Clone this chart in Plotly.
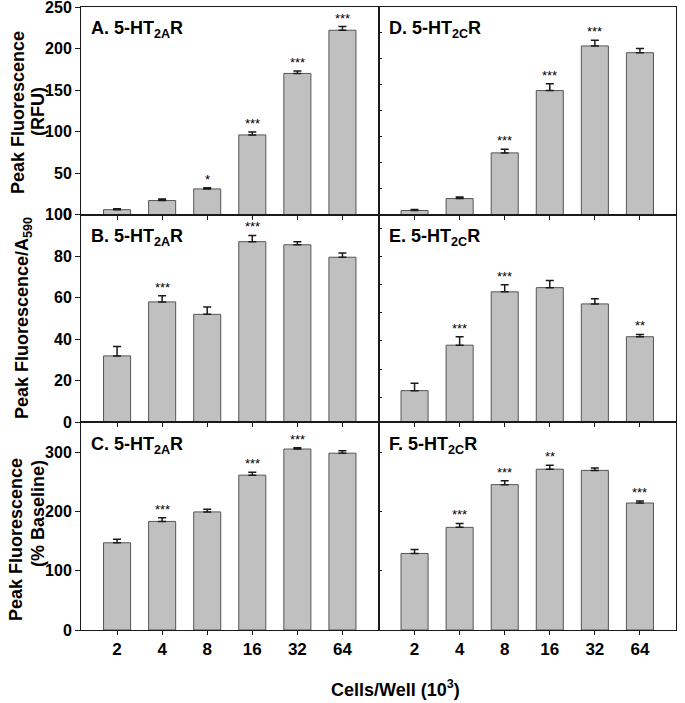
import plotly.graph_objects as go
from plotly.subplots import make_subplots

# ---- data ----
cells = ["2", "4", "8", "16", "32", "64"]

a_vals = [6, 17, 31, 96, 170, 222]
a_err = [1, 2, 1.5, 3.5, 3, 4.5]
a_sig = ["", "", "*", "***", "***", "***"]

b_vals = [32, 58, 52, 87, 85.5, 79.5]
b_err = [4.5, 3, 3.5, 3, 1.5, 2]
b_sig = ["", "***", "", "***", "", ""]

c_vals = [147, 183, 199, 261, 305, 298]
c_err = [6, 6, 4.5, 5, 2, 4]
c_sig = ["", "***", "", "***", "***", ""]

d_vals = [4, 15.5, 59.5, 119.5, 162.5, 156]
d_err = [1, 1.5, 3.5, 6.5, 5.5, 4]
d_sig = ["", "", "***", "***", "***", ""]

e_vals = [11.3, 27.5, 46.5, 48, 42.2, 30.5]
e_err = [2.6, 3, 2.5, 2.5, 1.8, 0.8]
e_sig = ["", "***", "***", "", "", "**"]

f_vals = [129, 173, 245, 271, 269, 214]
f_err = [6.5, 6.5, 6.5, 6.5, 4, 3.5]
f_sig = ["", "***", "***", "**", "", "***"]

panel_labels = {
    "A": "A. 5-HT<sub>2A</sub>R", "B": "B. 5-HT<sub>2A</sub>R", "C": "C. 5-HT<sub>2A</sub>R",
    "D": "D. 5-HT<sub>2C</sub>R", "E": "E. 5-HT<sub>2C</sub>R", "F": "F. 5-HT<sub>2C</sub>R",
}

W, H = 685, 703
ML, MR, MT, MB = 81, 9, 7, 73

panels = [
    # key, row, col, vals, err, sig, range, tick0, dtick
    ("A", 1, 1, a_vals, a_err, a_sig, [0, 250], 50, 50),
    ("D", 1, 2, d_vals, d_err, d_sig, [0, 200], 0, 25),
    ("B", 2, 1, b_vals, b_err, b_sig, [0, 100], 0, 20),
    ("E", 2, 2, e_vals, e_err, e_sig, [0, 74], 9, 10),
    ("C", 3, 1, c_vals, c_err, c_sig, [0, 350], 0, 100),
    ("F", 3, 2, f_vals, f_err, f_sig, [0, 350], 0, 100),
]

FONT = "Liberation Sans, Arial, sans-serif"
LINE = "#1a1a1a"

fig = make_subplots(rows=3, cols=2, horizontal_spacing=0, vertical_spacing=0)

annotations = []
for idx, (key, r, c, vals, err, sig, yr, t0, dt) in enumerate(panels):
    n = idx + 1
    xref = "x" if n == 1 else f"x{n}"
    yref = "y" if n == 1 else f"y{n}"
    fig.add_trace(go.Bar(
        x=cells, y=vals, width=0.6,
        marker=dict(color="#c0c0c0", line=dict(color="#555555", width=1)),
        error_y=dict(type="data", array=err, arrayminus=[0] * len(err), symmetric=False,
                     color=LINE, thickness=1.5, width=4),
        showlegend=False, hoverinfo="skip"), row=r, col=c)
    fig.update_xaxes(type="category", range=[-0.8, 5.8], showline=True, mirror=True,
                     linecolor=LINE, linewidth=1, ticks="outside", ticklen=4,
                     tickcolor=LINE, tickwidth=1, showgrid=False, zeroline=False,
                     showticklabels=(r == 3), automargin=False,
                     tickfont=dict(family=FONT, size=17, color="black", weight="bold"),
                     row=r, col=c)
    if c == 1:
        fig.update_yaxes(range=yr, tick0=t0, dtick=dt, ticks="outside", ticklen=5,
                         tickcolor=LINE, showticklabels=True, ticklabeloverflow="allow",
                         tickfont=dict(family=FONT, size=16, color="black", weight="bold"),
                         row=r, col=c)
    else:
        fig.update_yaxes(range=yr, tick0=t0, dtick=dt, ticks="inside", ticklen=3,
                         tickcolor=LINE, showticklabels=False, row=r, col=c)
    fig.update_yaxes(showline=True, mirror=True, linecolor=LINE, linewidth=1,
                     showgrid=False, zeroline=False, automargin=False, row=r, col=c)
    # significance stars (x given as category index)
    for i, (v, e, s) in enumerate(zip(vals, err, sig)):
        if s:
            annotations.append(dict(x=i, y=v + e, xref=xref, yref=yref, text=s,
                                    showarrow=False, yanchor="bottom", yshift=-1,
                                    font=dict(family=FONT, size=13, color="black")))
    # panel label
    annotations.append(dict(x=0.027, y=0.955, xref=f"{xref} domain", yref=f"{yref} domain",
                            text=f"<b>{panel_labels[key]}</b>", showarrow=False,
                            xanchor="left", yanchor="top",
                            font=dict(family=FONT, size=18, color="black")))

pw = W - ML - MR
ph = H - MT - MB


def px(xp):
    return (xp - ML) / pw


def py(yp):
    return (H - MB - yp) / ph


title_font = dict(family=FONT, size=18, color="black")
ytitles = [
    ("<b>Peak Fluorescence</b>", 18, 113),
    ("<b>(RFU)</b>", 38, 111),
    ("<b>Peak Fluorescence/A<sub>590</sub></b>", 24, 318),
    ("<b>Peak Fluorescence</b>", 16, 540),
    ("<b>(% Baseline)</b>", 38, 513),
]
for txt, xx, yy in ytitles:
    annotations.append(dict(x=px(xx), y=py(yy), xref="paper", yref="paper", text=txt,
                            textangle=-90, showarrow=False, xanchor="center",
                            yanchor="middle", font=title_font))

annotations.append(dict(x=px(395), y=py(688), xref="paper", yref="paper",
                        text="<b>Cells/Well (10<sup>3</sup>)</b>", showarrow=False,
                        xanchor="center", yanchor="middle", font=title_font))

fig.update_layout(width=W, height=H, margin=dict(l=ML, r=MR, t=MT, b=MB, autoexpand=False),
                  plot_bgcolor="white", paper_bgcolor="white", bargap=0.4,
                  annotations=annotations, font=dict(family=FONT))

fig.write_html("out.html", config={"displayModeBar": False},
               post_script="document.body.style.margin='0';")
